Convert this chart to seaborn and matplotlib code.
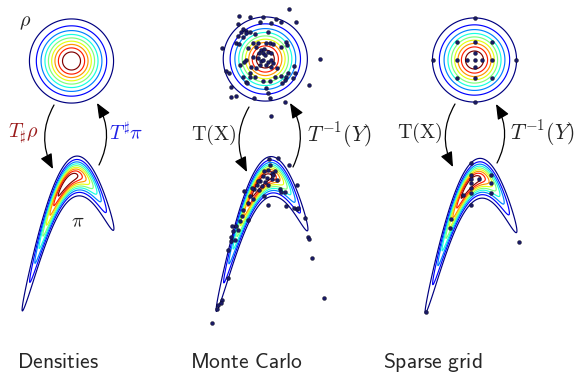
import numpy as np
import matplotlib
matplotlib.use("Agg")
import matplotlib.pyplot as plt
import seaborn as sns
import pandas as pd
from matplotlib.patches import FancyArrowPatch, ArrowStyle

# ---------------- data ----------------
column_titles = ["Densities", "Monte Carlo", "Sparse grid"]
density_levels = [0.1, 0.2, 0.3, 0.4, 0.5, 0.6, 0.7, 0.8, 0.9]  # fraction of peak density

# Monte Carlo samples in the reference (standard normal) space
mc_ref_z1 = [1.22, -1.34, -0.79, -0.11, 0.54, -0.28, 0.28, 0.82, 1.56, -1.39,
             -1.16, -1.01, -1.25, -0.96, -0.79, -1.39, -1.13, -0.54, 0.14, -0.62,
             -0.37, 0.06, 0.23, 0.40, -1.47, -1.34, -0.88, -0.45, 1.05, 1.13,
             0.79, -2.19, -0.23, -0.06, -0.31, -0.14, 0.14, 0.31, -0.03, -0.65,
             -0.99, -1.08, -0.37, -0.23, -0.11, 0.14, 0.31, 0.40, 0.06, -0.28,
             -0.71, -0.45, 0.31, 0.60, -1.30, -1.98, -1.86, -0.79, -1.13, -0.79,
             -0.54, -0.11, 0.23, 0.48, 0.79, 1.08, 1.16, 0.99, 1.42, 1.51,
             1.47, 0.86, -1.01, -0.91, -1.76, 0.06, 2.22, 2.81, -1.73, -1.51,
             -0.57, 0.14, 0.26, 1.03, 0.28]
mc_ref_z2 = [2.53, 2.21, 2.16, 2.13, 2.02, 1.87, 1.85, 1.87, 1.89, 1.79,
             1.53, 1.45, 1.36, 1.31, 1.39, 1.19, 1.14, 1.26, 1.39, 0.80,
             0.80, 0.83, 0.80, 0.77, 0.80, 0.75, 0.58, 0.63, 0.88, 0.71,
             0.63, 0.54, 0.46, 0.49, 0.29, 0.29, 0.37, 0.29, 0.20, 0.12,
             -0.05, -0.14, 0.03, -0.09, -0.05, -0.14, -0.05, -0.22, -0.31, -0.31,
             -0.39, -0.48, -0.39, -0.48, -0.31, -0.60, -0.73, -0.73, -0.94, -0.94,
             -0.90, -1.11, -1.12, -0.90, -0.87, -0.90, -0.73, -1.07, -0.99, -0.73,
             -0.36, -1.24, -1.16, -1.24, -1.41, -1.50, -1.33, -0.02, -1.96, -1.89,
             -2.01, -1.75, -2.01, -2.21, -2.91]

# Monte Carlo samples in the target (banana) space
mc_tgt_u = [0.37, 0.78, 1.37, 0.40, 0.32, 0.48, 0.65, 0.07, 0.23, 0.48,
            0.73, -0.10, 0.15, -0.27, -0.02, 0.32, -0.38, -0.13, 0.90, 1.15,
            0.95, 0.12, -0.88, -0.60, -0.43, -0.68, 0.32, 1.20, 1.73, 1.62,
            1.73, 1.82, 2.15, -0.93, -1.02, -0.72, -1.10, -1.30, -1.52, -1.43,
            -1.18, -1.55, -1.57, -1.35, -1.68, 2.32, 2.37, 2.48, -1.72, -2.02,
            -2.07, -2.18, -2.23, -2.48, 3.10, 0.10, -0.20, 0.55, -0.50]
mc_tgt_v = [1.13, 1.18, 0.82, 0.85, 0.57, 0.43, 0.52, 0.27, 0.18, 0.13,
            0.10, 0.02, -0.03, -0.15, -0.23, -0.15, -0.37, -0.43, -0.37, -0.53,
            -0.53, -0.73, -0.48, -0.70, -0.87, -1.07, -1.18, -1.20, -0.15, -1.32,
            -1.37, -1.32, -1.82, -1.40, -1.73, -1.90, -1.98, -2.23, -2.20, -2.48,
            -2.40, -2.77, -2.98, -2.90, -3.40, -2.77, -2.87, -3.82, -4.82, -5.90,
            -6.07, -6.15, -6.37, -7.07, -5.82, 0.55, 0.05, 0.35, -0.30]

# Sparse grid nodes in the reference space
sg_ref_z1 = [0.0, 0.37, -0.37, 0.0, 0.0, 0.90, -0.90, 0.0, 0.0,
             0.90, 0.90, -0.90, -0.90, 2.14, -2.14, 0.0, 0.0]
sg_ref_z2 = [0.0, 0.0, 0.0, 0.37, -0.37, 0.0, 0.0, 0.90, -0.90,
             0.90, -0.90, 0.90, -0.90, 0.0, 0.0, 2.14, -2.14]

# Sparse grid nodes mapped to the target space
sg_tgt_u = [0.0, 0.0, 1.0, 0.0, 0.0, 0.42, -0.42, 0.0, 1.0, 1.0,
            0.0, -1.02, -1.05, 2.42, -2.25, 0.0]
sg_tgt_v = [1.03, 0.42, 0.42, 0.20, 0.0, 0.20, -0.59, -0.47, 0.0, -0.47,
            -1.09, -1.80, -2.25, -2.95, -6.45, -0.22]

# banana-shaped target density parameters
banana_xscale = 1.07
banana_yscale = 0.475
banana_poly = [-0.997, 0.994, 0.0214, -0.030]   # coefficients of u, u^2, u^3, u^4

# ---------------- style ----------------
sns.set_theme(style="white")
plt.rcParams['font.family'] = ['DejaVu Sans']
plt.rcParams['mathtext.fontset'] = 'cm'

W, H = 581, 376
fig = plt.figure(figsize=(W / 100, H / 100), dpi=100)
fig.patch.set_facecolor("white")

jet_colors = plt.get_cmap("jet")(np.linspace(0, 1, len(density_levels)))
NAVY = "#1a1a66"


def px_axes(x0, y0, x1, y1):
    ax = fig.add_axes([x0 / W, 1 - y1 / H, (x1 - x0) / W, (y1 - y0) / H])
    ax.set_axis_off()
    ax.patch.set_alpha(0)
    return ax


def circle_axes(cx, cy):
    s, R = 19.6, 3.2
    ax = px_axes(cx - R * s, cy - R * s, cx + R * s, cy + R * s)
    g = np.linspace(-R, R, 500)
    X, Y = np.meshgrid(g, g)
    D = np.exp(-(X ** 2 + Y ** 2) / 2)
    ax.contour(X, Y, D, levels=density_levels, colors=jet_colors, linewidths=0.85)
    ax.set_xlim(-R, R)
    ax.set_ylim(-R, R)
    return ax


def banana_axes(ax_, ay_):
    s = 20.0
    u0, u1, v0, v1 = -3.0, 3.6, -7.6, 1.9
    ax = px_axes(ax_ + u0 * s, ay_ - v1 * s, ax_ + u1 * s, ay_ - v0 * s)
    U, V = np.meshgrid(np.linspace(u0, u1, 800), np.linspace(v0, v1, 1100))
    gU = sum(c * U ** (k + 1) for k, c in enumerate(banana_poly))
    Z1 = U / banana_xscale
    Z2 = (V + gU) / banana_yscale
    D = np.exp(-(Z1 ** 2 + Z2 ** 2) / 2)
    ax.contour(U, V, D, levels=density_levels, colors=jet_colors, linewidths=0.85)
    ax.set_xlim(u0, u1)
    ax.set_ylim(v0, v1)
    return ax


def dots(ax, x, y):
    lims = (ax.get_xlim(), ax.get_ylim())
    sns.scatterplot(data=pd.DataFrame({"x": x, "y": y}), x="x", y="y", ax=ax,
                    s=8, color=NAVY, edgecolor="black", linewidth=0.25,
                    zorder=5, clip_on=False, legend=False)
    ax.set_xlim(*lims[0])
    ax.set_ylim(*lims[1])
    ax.set_axis_off()


circle_centers = [(71.5, 61.0), (265.3, 59.0), (474.5, 60.0)]
banana_anchors = [(68.0, 181.0), (262.0, 181.5), (471.0, 183.3)]

cax = [circle_axes(*c) for c in circle_centers]
bax = [banana_axes(*b) for b in banana_anchors]

dots(cax[1], mc_ref_z1, mc_ref_z2)
dots(bax[1], mc_tgt_u, mc_tgt_v)
dots(cax[2], sg_ref_z1, sg_ref_z2)
dots(bax[2], sg_tgt_u, sg_tgt_v)

# ---------------- overlay: arrows and labels ----------------
ov = fig.add_axes([0, 0, 1, 1])
ov.set_xlim(0, W)
ov.set_ylim(H, 0)
ov.set_axis_off()
ov.patch.set_alpha(0)

head = ArrowStyle("-|>", head_length=0.65, head_width=0.27)
arrows = [((54, 105), (53, 169)), ((99, 165), (97, 103)),
          ((249, 107), (247, 172)), ((293, 167), (290, 103)),
          ((455, 104), (453, 167)), ((497, 163), (496, 104))]
for a, b in arrows:
    ov.add_patch(FancyArrowPatch(a, b, arrowstyle=head, mutation_scale=14,
                                 connectionstyle="arc3,rad=0.27", color="black",
                                 lw=0.9, shrinkA=0, shrinkB=0))

fs = 14.5
ov.text(25, 22, r"$\rho$", fontsize=fs, ha="center", va="center")
ov.text(23, 133, r"$T_\sharp\rho$", fontsize=fs, ha="center", va="center", color="#9b1c1c")
ov.text(126, 133, r"$T^\sharp\pi$", fontsize=fs, ha="center", va="center", color="#2121e6")
ov.text(78, 222, r"$\pi$", fontsize=fs, ha="center", va="center")
ov.text(214, 135, r"$\mathrm{T(X)}$", fontsize=fs, ha="center", va="center")
ov.text(339, 135, r"$T^{-1}(Y)$", fontsize=15.5, ha="center", va="center")
ov.text(420, 133, r"$\mathrm{T(X)}$", fontsize=fs, ha="center", va="center")
ov.text(542, 133, r"$T^{-1}(Y)$", fontsize=15.5, ha="center", va="center")

title_x = [58, 246.5, 433]
for tx, t in zip(title_x, column_titles):
    ov.text(tx, 362, r"$\mathsf{" + t.replace(" ", r"\ ") + "}$", fontsize=15.5,
            ha="center", va="center")

fig.savefig("out.png", dpi=100)
